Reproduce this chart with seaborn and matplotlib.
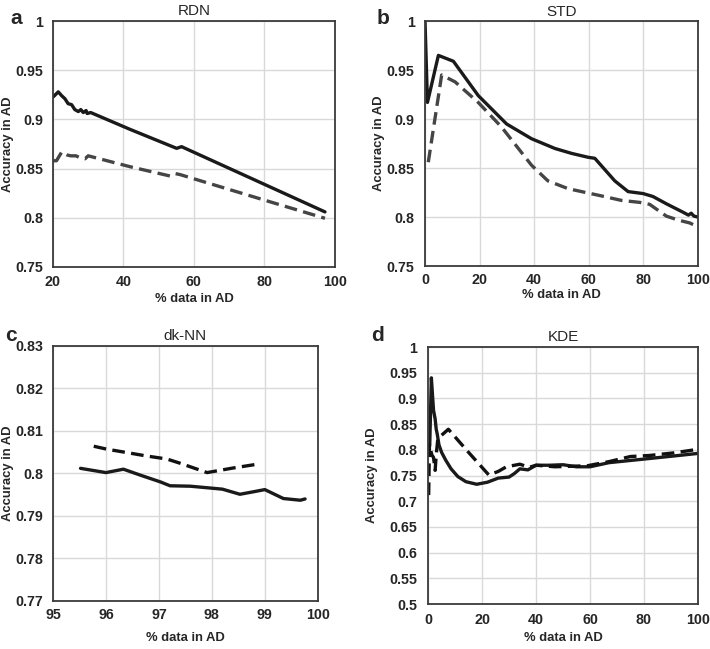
import matplotlib
matplotlib.use("Agg")
import matplotlib.pyplot as plt
import seaborn as sns
from matplotlib.ticker import FixedLocator, FuncFormatter

sns.set_style("whitegrid")
plt.rcParams['font.family'] = ['Liberation Sans', 'DejaVu Sans']

# ---- data ----
rdn_x_solid = [20.1, 21.5, 22.5, 23.4, 24.3, 25.3, 26.2, 27.2, 27.9, 28.6, 29.4, 29.7, 30.7, 41.8, 55.1, 56.5, 97.2]
rdn_y_solid = [0.923, 0.928, 0.924, 0.921, 0.916, 0.915, 0.910, 0.908, 0.910, 0.907, 0.909, 0.906, 0.907, 0.890, 0.8706, 0.8723, 0.806]
rdn_x_dash = [20.1, 21.0, 22.5, 23.9, 25.0, 26.5, 27.7, 29.1, 30.0, 41.8, 53.2, 54.6, 56.0, 80.0, 97.2]
rdn_y_dash = [0.858, 0.858, 0.867, 0.864, 0.863, 0.863, 0.861, 0.860, 0.863, 0.852, 0.8425, 0.845, 0.844, 0.818, 0.7995]

std_x_solid = [0.0, 0.9, 4.9, 10.4, 19.5, 29.9, 39.0, 47.6, 53.7, 59.8, 62.2, 69.5, 74.4, 79.9, 83.5, 88.4, 94.5, 96.5, 97.5, 98.5, 100.0]
std_y_solid = [1.0, 0.917, 0.965, 0.959, 0.924, 0.895, 0.880, 0.870, 0.865, 0.861, 0.860, 0.837, 0.826, 0.824, 0.821, 0.8136, 0.805, 0.802, 0.804, 0.801, 0.800]
std_x_dash = [1.2, 6.1, 11.0, 19.5, 28.0, 39.0, 45.0, 52.4, 64.0, 72.0, 78.7, 82.3, 88.4, 92.7, 97.0, 100.0]
std_y_dash = [0.856, 0.945, 0.938, 0.917, 0.892, 0.853, 0.837, 0.829, 0.822, 0.817, 0.815, 0.813, 0.801, 0.797, 0.794, 0.790]

knn_x_solid = [95.52, 96.0, 96.33, 96.65, 97.03, 97.21, 97.59, 98.03, 98.20, 98.53, 98.79, 99.0, 99.35, 99.67, 99.76]
knn_y_solid = [0.8012, 0.8002, 0.8010, 0.7996, 0.7980, 0.7971, 0.7970, 0.7965, 0.7963, 0.7951, 0.7957, 0.7962, 0.7941, 0.7937, 0.7940]
knn_x_dash = [95.77, 96.02, 96.40, 96.77, 97.15, 97.40, 97.91, 98.41, 98.82]
knn_y_dash = [0.8064, 0.8057, 0.8049, 0.8041, 0.8034, 0.8024, 0.8002, 0.8013, 0.8021]

kde_x_solid = [0.2, 0.6, 1.2, 1.7, 2.0, 2.6, 3.0, 3.4, 4.0, 5.0, 6.5, 8.5, 11, 14, 18, 22, 26, 30, 32, 34, 37, 40, 45, 50, 55, 60, 67, 80, 91, 100]
kde_y_solid = [0.80, 0.81, 0.94, 0.90, 0.877, 0.86, 0.84, 0.83, 0.81, 0.795, 0.78, 0.763, 0.748, 0.738, 0.733, 0.737, 0.745, 0.747, 0.754, 0.763, 0.761, 0.770, 0.770, 0.771, 0.767, 0.767, 0.775, 0.782, 0.788, 0.793]
kde_x_dash = [0.2, 0.5, 0.9, 1.4, 2.0, 2.6, 3.0, 3.6, 7.5, 15, 22.5, 26, 29, 34, 37.5, 40, 47, 53, 59, 67, 75, 82, 91, 100]
kde_y_dash = [0.712, 0.81, 0.80, 0.79, 0.785, 0.76, 0.79, 0.822, 0.84, 0.795, 0.751, 0.758, 0.767, 0.772, 0.766, 0.770, 0.767, 0.768, 0.769, 0.777, 0.787, 0.789, 0.794, 0.801]

panels = [
    # letter, title, rect, solid, dashed, xticks, yticks, dash colour, (xpad, ypad, xlabel y, ylabel x)
    ("a", "RDN", [0.0746, 0.5886, 0.397, 0.379], (rdn_x_solid, rdn_y_solid), (rdn_x_dash, rdn_y_dash),
     [20, 40, 60, 80, 100], [0.75, 0.8, 0.85, 0.9, 0.95, 1.0], "#454545", (6, 7, -0.106, -0.138)),
    ("b", "STD", [0.5986, 0.5900, 0.3845, 0.3775], (std_x_solid, std_y_solid), (std_x_dash, std_y_dash),
     [0, 20, 40, 60, 80, 100], [0.75, 0.8, 0.85, 0.9, 0.95, 1.0], "#454545", (5, 7.5, -0.094, -0.146)),
    ("c", "dk-NN", [0.0746, 0.0740, 0.373, 0.393], (knn_x_solid, knn_y_solid), (knn_x_dash, knn_y_dash),
     [95, 96, 97, 98, 99, 100], [0.77, 0.78, 0.79, 0.8, 0.81, 0.82, 0.83], "#111111", (5, 7, -0.122, -0.147)),
    ("d", "KDE", [0.6030, 0.0693, 0.380, 0.396], (kde_x_solid, kde_y_solid), (kde_x_dash, kde_y_dash),
     [0, 20, 40, 60, 80, 100], [0.5, 0.55, 0.6, 0.65, 0.7, 0.75, 0.8, 0.85, 0.9, 0.95, 1.0], "#111111", (6.5, 8, -0.109, -0.185)),
]

fig = plt.figure(figsize=(7.1, 6.49), dpi=100)

fmt = FuncFormatter(lambda v, p: f"{v:g}")

for letter, title, rect, solid, dash, xt, yt, dcol, pads in panels:
    ax = fig.add_axes(rect)
    sns.lineplot(x=solid[0], y=solid[1], ax=ax, color="#1a1a1a", lw=2.4,
                 sort=False, estimator=None)
    sns.lineplot(x=dash[0], y=dash[1], ax=ax, color=dcol, lw=2.4,
                 sort=False, estimator=None, linestyle=(0, (3.8, 1.9)))
    ax.set_xlim(xt[0], xt[-1])
    ax.set_ylim(yt[0], yt[-1])
    ax.xaxis.set_major_locator(FixedLocator(xt))
    ax.yaxis.set_major_locator(FixedLocator(yt))
    ax.xaxis.set_major_formatter(fmt)
    ax.yaxis.set_major_formatter(fmt)
    ax.grid(True, color="#d9d9d9", lw=1.0)
    for s in ax.spines.values():
        s.set_color("#3a3a3a")
        s.set_linewidth(1.3)
    ax.tick_params(axis="x", length=0, pad=pads[0], labelsize=10.3)
    ax.tick_params(axis="y", length=0, pad=pads[1], labelsize=10.3)
    for lab in ax.get_xticklabels() + ax.get_yticklabels():
        lab.set_fontweight("bold")
    ax.set_xlabel("% data in AD", fontsize=9.4, fontweight="bold")
    ax.set_ylabel("Accuracy in AD", fontsize=9.4, fontweight="bold")
    ax.xaxis.set_label_coords(0.5, pads[2])
    ax.yaxis.set_label_coords(pads[3], 0.5)
    ax.set_title(title, fontsize=11, pad=4)

fig.text(16 / 710, 1 - 19 / 649, "a", fontsize=15, fontweight="bold", ha="center", va="center")
fig.text(383 / 710, 1 - 19 / 649, "b", fontsize=15, fontweight="bold", ha="center", va="center")
fig.text(11 / 710, 1 - 335 / 649, "c", fontsize=15, fontweight="bold", ha="center", va="center")
fig.text(378 / 710, 1 - 335 / 649, "d", fontsize=15, fontweight="bold", ha="center", va="center")

fig.savefig("out.png", dpi=100, facecolor="white")
